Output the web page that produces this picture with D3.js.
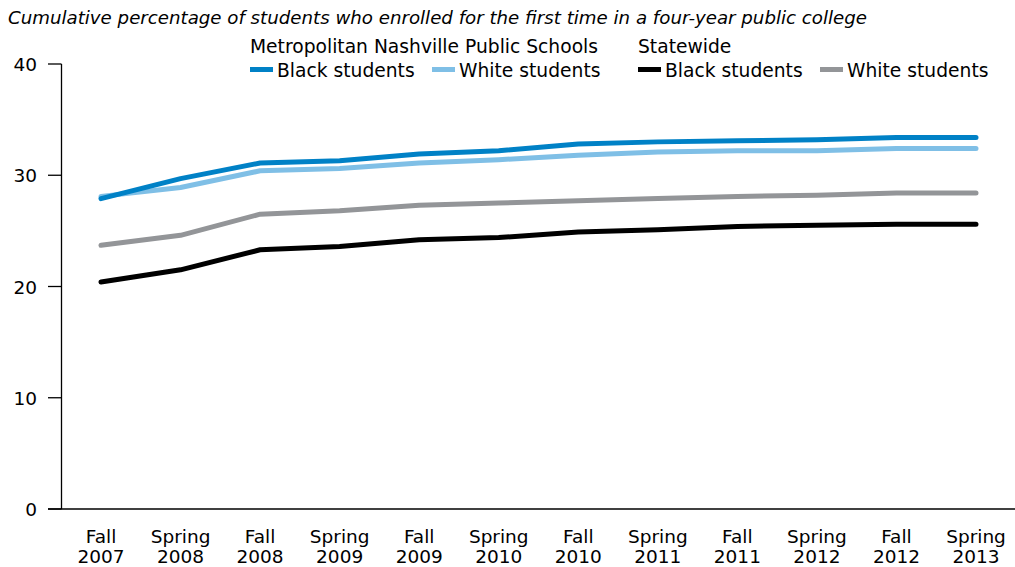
<!DOCTYPE html>
<html><head><meta charset="utf-8">
<script src="https://cdn.jsdelivr.net/npm/d3@7"></script>
<style>body{margin:0;background:#fff}svg{display:block}text{font-family:"DejaVu Sans",sans-serif;fill:#000}</style>
</head><body><svg id="c" width="1015" height="567"></svg>
<script>
const categories = ["Fall 2007","Spring 2008","Fall 2008","Spring 2009","Fall 2009","Spring 2010","Fall 2010","Spring 2011","Fall 2011","Spring 2012","Fall 2012","Spring 2013"];
const mnpsBlack  = [27.9,29.7,31.1,31.3,31.9,32.2,32.8,33.0,33.1,33.2,33.4,33.4];
const mnpsWhite  = [28.1,28.9,30.4,30.6,31.1,31.4,31.8,32.1,32.2,32.2,32.4,32.4];
const stateBlack = [20.4,21.5,23.3,23.6,24.2,24.4,24.9,25.1,25.4,25.5,25.6,25.6];
const stateWhite = [23.7,24.6,26.5,26.8,27.3,27.5,27.7,27.9,28.1,28.2,28.4,28.4];
const yTicks = [0,10,20,30,40];
const title = "Cumulative percentage of students who enrolled for the first time in a four-year public college";

const series = [
  {values:stateWhite, color:"#939598"},
  {values:stateBlack, color:"#000000"},
  {values:mnpsWhite, color:"#7FBFE6"},
  {values:mnpsBlack, color:"#0081C6"}
];

const svg = d3.select("#c");
const x = d3.scalePoint().domain(categories).range([101,976]);
const y = d3.scaleLinear().domain([0,40]).range([509,64]);

svg.append("text").attr("x",8).attr("y",24).attr("font-size",18.2).attr("font-style","italic").text(title);

// y axis
const ya = svg.append("g");
ya.append("line").attr("x1",61.5).attr("x2",61.5).attr("y1",y(40)).attr("y2",y(0)).attr("stroke","#000").attr("stroke-width",1.3);
ya.selectAll("line.t").data(yTicks).join("line").attr("class","t")
  .attr("x1",48).attr("x2",61.5).attr("y1",d=>y(d)).attr("y2",d=>y(d)).attr("stroke","#000").attr("stroke-width",1.3);
ya.selectAll("text").data(yTicks).join("text").attr("x",37).attr("y",d=>y(d)+7)
  .attr("text-anchor","end").attr("font-size",18.5).text(d=>d);
// x axis
svg.append("line").attr("x1",48).attr("x2",1015).attr("y1",y(0)).attr("y2",y(0)).attr("stroke","#000").attr("stroke-width",1.3);
const xl = svg.append("g").selectAll("text").data(categories).join("text")
  .attr("text-anchor","middle").attr("font-size",18.5).attr("transform",d=>`translate(${x(d)},0)`);
xl.append("tspan").attr("x",0).attr("y",543).text(d=>d.split(" ")[0]);
xl.append("tspan").attr("x",0).attr("y",563).text(d=>d.split(" ")[1]);

const line = d3.line().x((d,i)=>x(categories[i])).y(d=>y(d));
svg.append("g").selectAll("path").data(series).join("path")
  .attr("d",d=>line(d.values)).attr("fill","none").attr("stroke",d=>d.color)
  .attr("stroke-width",5).attr("stroke-linecap","round").attr("stroke-linejoin","round");

// legend
const lg = svg.append("g");
lg.append("text").attr("x",250).attr("y",53).attr("font-size",18.7).text("Metropolitan Nashville Public Schools");
lg.append("text").attr("x",638).attr("y",53).attr("font-size",18.7).text("Statewide");
const items = [
  {x:250, color:"#0081C6", label:"Black students"},
  {x:432, color:"#7FBFE6", label:"White students"},
  {x:638, color:"#000000", label:"Black students"},
  {x:820, color:"#939598", label:"White students"}
];
const it = lg.selectAll("g").data(items).join("g").attr("transform",d=>`translate(${d.x},0)`);
it.append("rect").attr("x",0).attr("y",67).attr("width",23).attr("height",5).attr("fill",d=>d.color);
it.append("text").attr("x",27).attr("y",77).attr("font-size",18.7).text(d=>d.label);
</script></body></html>
